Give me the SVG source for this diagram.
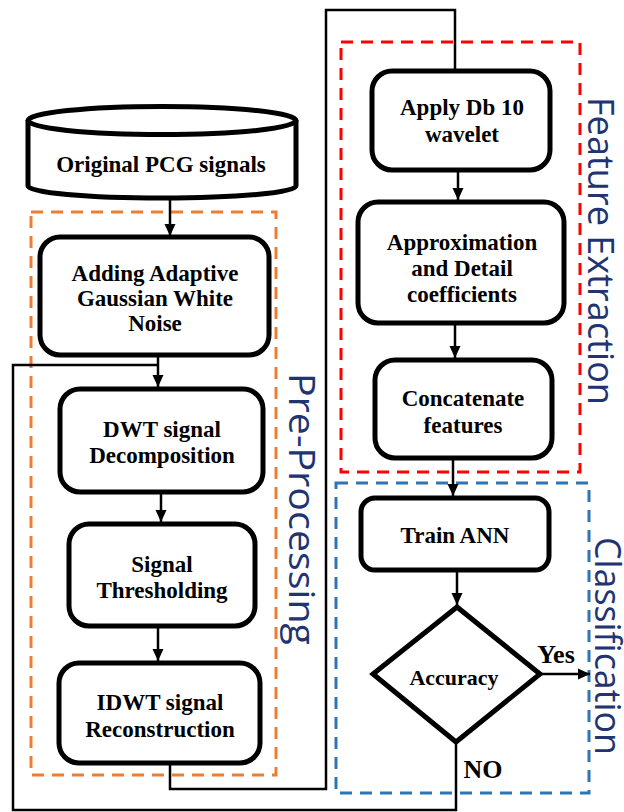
<svg xmlns="http://www.w3.org/2000/svg" width="624" height="812" viewBox="0 0 624 812">
<defs>
<marker id="arr" viewBox="0 0 12 12" refX="12" refY="6" markerWidth="12" markerHeight="12" markerUnits="userSpaceOnUse" orient="auto">
<path d="M0,0.5 L12,6 L0,11.5 Z" fill="#000"/>
</marker>
<style>
.box{fill:#fff;stroke:#000;stroke-width:5}
.t{font-family:"Liberation Serif","Times New Roman",serif;font-weight:bold;font-size:23px;fill:#000;text-anchor:middle}
.c{fill:none;stroke:#000;stroke-width:2.5}
.lab{font-family:"Open Sans","Lato",sans-serif;font-size:37px;fill:#1F3471}
.grp{fill:none;stroke-width:3;stroke-dasharray:12 8}
</style>
</defs>
<rect width="624" height="812" fill="#fff"/>

<g id="groups">
<rect class="grp" x="31" y="212" width="245" height="563" stroke="#ED7D31"/>
<rect class="grp" x="341" y="42" width="239" height="430" stroke="#FF0000"/>
<rect class="grp" x="336" y="483" width="253" height="310" stroke="#2E75B6"/>
<text class="lab" transform="translate(289,373) rotate(90)" textLength="272" lengthAdjust="spacingAndGlyphs">Pre-Processing</text>
<text class="lab" transform="translate(588,97) rotate(90)" textLength="308" lengthAdjust="spacingAndGlyphs">Feature Extraction</text>
<text class="lab" transform="translate(595,537) rotate(90)" textLength="218" lengthAdjust="spacingAndGlyphs">Classification</text>
</g>

<g id="connectors">
<line class="c" x1="170" y1="199" x2="170" y2="236" marker-end="url(#arr)"/>
<line class="c" x1="158" y1="357" x2="158" y2="387" marker-end="url(#arr)"/>
<line class="c" x1="161" y1="493" x2="161" y2="522" marker-end="url(#arr)"/>
<line class="c" x1="158" y1="628" x2="158" y2="661" marker-end="url(#arr)"/>
<path class="c" d="M170,764 V789 H326 V10 H455 V71"/>
<line class="c" x1="458" y1="171" x2="458" y2="200" marker-end="url(#arr)"/>
<line class="c" x1="455" y1="324" x2="455" y2="358" marker-end="url(#arr)"/>
<line class="c" x1="453" y1="459" x2="453" y2="496" marker-end="url(#arr)"/>
<line class="c" x1="457" y1="571" x2="457" y2="605" marker-end="url(#arr)"/>
<line class="c" x1="540" y1="674" x2="590" y2="674" marker-end="url(#arr)"/>
<path class="c" d="M456,743 V810 H13 V365 H158"/>
<text class="t" x="556" y="663" style="font-size:26px">Yes</text>
<text class="t" x="483" y="778" style="font-size:26px">NO</text>
</g>

<g id="n0">
<path class="box" d="M28,120 V186 A134,12 0 0 0 296,186 V120"/>
<ellipse class="box" cx="162" cy="120.5" rx="134" ry="14"/>
<text class="t" x="161" y="172">Original PCG signals</text>
</g>

<g id="n1">
<rect class="box" x="40" y="237" width="229" height="118" rx="20"/>
<text class="t" x="155" y="281">Adding Adaptive</text>
<text class="t" x="155" y="306">Gaussian White</text>
<text class="t" x="155" y="331">Noise</text>
</g>

<g id="n2">
<rect class="box" x="60" y="389" width="203" height="103" rx="20"/>
<text class="t" x="162" y="437">DWT signal</text>
<text class="t" x="162" y="463">Decomposition</text>
</g>

<g id="n3">
<rect class="box" x="69" y="524" width="186" height="102" rx="20"/>
<text class="t" x="162" y="572">Signal</text>
<text class="t" x="162" y="598">Thresholding</text>
</g>

<g id="n4">
<rect class="box" x="59" y="663" width="201" height="100" rx="20"/>
<text class="t" x="160" y="710">IDWT signal</text>
<text class="t" x="160" y="737">Reconstruction</text>
</g>

<g id="n5">
<rect class="box" x="372" y="71" width="178" height="99" rx="20"/>
<text class="t" x="462" y="115">Apply Db 10</text>
<text class="t" x="462" y="142">wavelet</text>
</g>

<g id="n6">
<rect class="box" x="358" y="202" width="206" height="121" rx="20"/>
<text class="t" x="462" y="250">Approximation</text>
<text class="t" x="462" y="276">and Detail</text>
<text class="t" x="462" y="302">coefficients</text>
</g>

<g id="n7">
<rect class="box" x="375" y="360" width="177" height="98" rx="20"/>
<text class="t" x="463" y="406">Concatenate</text>
<text class="t" x="463" y="433">features</text>
</g>

<g id="n8">
<rect class="box" x="361" y="498" width="188" height="72" rx="14"/>
<text class="t" x="455" y="543">Train ANN</text>
</g>

<g id="n9">
<polygon class="box" points="457,607 540,674 456,742 373,674"/>
<text class="t" x="454" y="685" style="font-size:22px">Accuracy</text>
</g>
</svg>
